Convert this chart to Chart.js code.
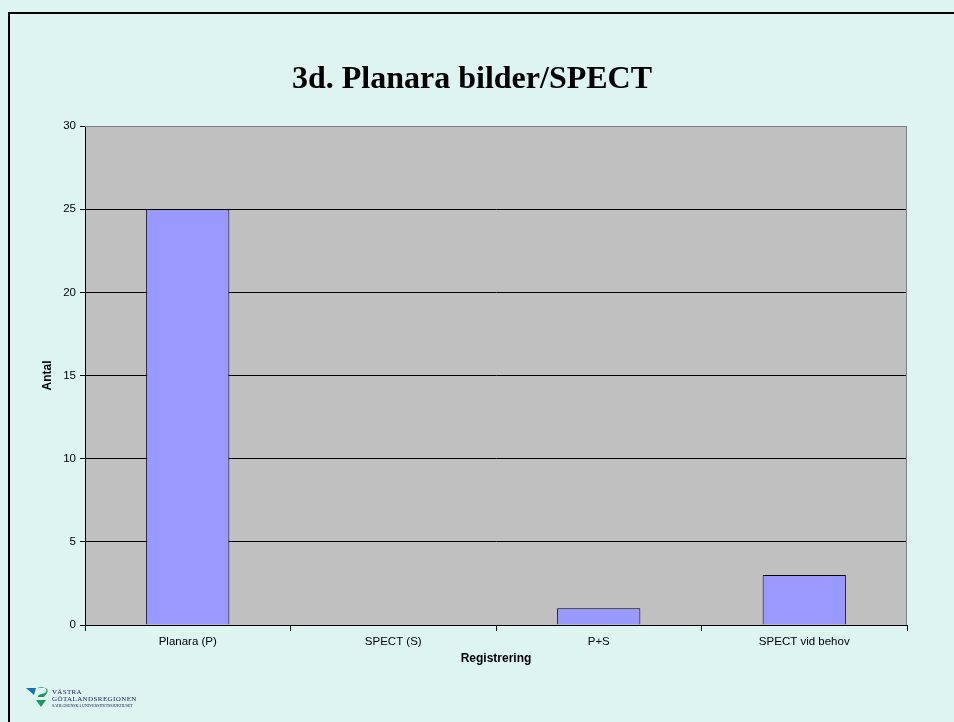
<!DOCTYPE html>
<html>
<head>
<meta charset="utf-8">
<script src="https://cdn.jsdelivr.net/npm/chart.js@4.4.0/dist/chart.umd.min.js"></script>
<style>
  html, body { margin: 0; padding: 0; background: #ddf4f1; }
  #wrap { position: relative; width: 954px; height: 722px; overflow: hidden; background: #ddf4f1; }
  #ram { position: absolute; left: 8px; top: 12px; width: 960px; height: 730px; border: 2px solid #000; box-sizing: border-box; }
  #titel { position: absolute; left: 0; width: 944px; top: 59px; text-align: center; margin: 0;
    font: bold 32px "Liberation Serif", "Times New Roman", serif; color: #000; }
  #logo { position: absolute; left: 26px; top: 688px; font-family: "Liberation Serif", serif; color: #1a1a4a; }
  #logo .t1 { position: absolute; left: 26px; top: 0; font-size: 7px; letter-spacing: 0.3px; white-space: nowrap; }
  #logo .t2 { position: absolute; left: 26px; top: 7px; font-size: 7px; letter-spacing: 0.4px; white-space: nowrap; }
  #logo .t3 { position: absolute; left: 26px; top: 15px; font-size: 4px; white-space: nowrap; }
  canvas { position: absolute; left: 0; top: 0; }
</style>
</head>
<body>
<div id="wrap">
  <div id="ram"></div>
  <canvas id="stapel" width="954" height="722"></canvas>
  <h1 id="titel">3d. Planara bilder/SPECT</h1>
  <div id="logo">
    <svg width="26" height="22" style="position:absolute;left:0;top:-2px">
      <polygon points="0,2 10,2 8,9" fill="#1b6fb5"/>
      <path d="M11,2 C18,0 22,3 20,6 C17,9 12,7 12,11 L18,11 C20,8 24,5 20,2 Z" fill="#1a9a5a"/>
      <polygon points="10,14 20,14 15,21" fill="#1a9a5a"/>
    </svg>
    <div class="t1">VÄSTRA</div>
    <div class="t2">GÖTALANDSREGIONEN</div>
    <div class="t3">SAHLGRENSKA UNIVERSITETSSJUKHUSET</div>
  </div>
</div>
<script>
const kategorier = ["Planara (P)", "SPECT (S)", "P+S", "SPECT vid behov"];
const antal = [25, 0, 1, 3];
const yMax = 30;
const ySteg = 5;

// grå bakgrund i ritytan + kantlinjer
const ritytaBakgrund = {
  id: 'ritytaBakgrund',
  beforeDraw(chart) {
    const { ctx, chartArea: a } = chart;
    ctx.save();
    ctx.fillStyle = '#c0c0c0';
    ctx.fillRect(a.left, a.top, a.right - a.left, a.bottom - a.top);
    ctx.restore();
  },
  afterDraw(chart) {
    const { ctx, chartArea: a } = chart;
    ctx.save();
    ctx.strokeStyle = '#808080';
    ctx.lineWidth = 1;
    ctx.beginPath();
    ctx.moveTo(a.left, a.top + 0.5);
    ctx.lineTo(a.right - 0.5, a.top + 0.5);
    ctx.lineTo(a.right - 0.5, a.bottom);
    ctx.stroke();
    ctx.restore();
  }
};

const tickFont = { family: 'Liberation Sans, Arial', size: 11.5 };
const titelFont = { family: 'Liberation Sans, Arial', size: 12, weight: 'bold' };

const ctx = document.getElementById('stapel').getContext('2d');
new Chart(ctx, {
  type: 'bar',
  data: {
    labels: kategorier,
    datasets: [{
      label: 'Antal',
      data: antal,
      backgroundColor: '#9999ff',
      borderColor: '#000000',
      borderWidth: 1,
      categoryPercentage: 1.0,
      barPercentage: 0.405
    }]
  },
  options: {
    responsive: false,
    animation: false,
    layout: { padding: { top: 126, right: 47, left: 40, bottom: 56 } },
    plugins: {
      legend: { display: false },
      title: { display: false },
      tooltip: { enabled: false }
    },
    scales: {
      x: {
        offset: true,
        grid: { display: true, drawOnChartArea: false, drawTicks: true, tickLength: 6, color: '#000' },
        border: { display: true, color: '#000', width: 1 },
        ticks: { color: '#000', font: tickFont, padding: 4, maxRotation: 0 },
        title: { display: true, text: 'Registrering', color: '#000', font: titelFont, padding: 0 },
        afterFit(scale) { scale.height = 41; }
      },
      y: {
        min: 0,
        max: yMax,
        ticks: { stepSize: ySteg, color: '#000', font: tickFont, padding: 4 },
        grid: {
          color: (c) => c.tick && c.tick.value === yMax ? '#808080' : '#000',
          tickColor: '#000',
          tickLength: 5,
          lineWidth: 1
        },
        border: { display: true, color: '#000', width: 1 },
        title: { display: true, text: 'Antal', color: '#000', font: titelFont, padding: 0 },
        afterFit(scale) { scale.width = 45; }
      }
    }
  },
  plugins: [ritytaBakgrund]
});
</script>
</body>
</html>
